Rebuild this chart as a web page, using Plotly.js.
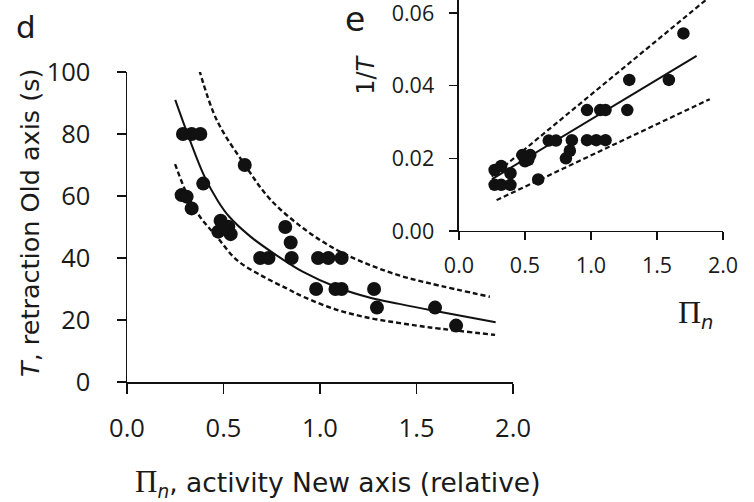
<!DOCTYPE html>
<html>
<head>
<meta charset="utf-8">
<script src="https://cdn.plot.ly/plotly-3.0.1.min.js"></script>
<style>html,body{margin:0;padding:0;background:#fff;}</style>
</head>
<body>
<div id="chart" style="width:754px;height:502px;"></div>
<script>
// ---- Panel d: T vs Pi_n (points) ----
const piMain = [0.29,0.335,0.38, 0.61, 0.395, 0.283,0.309, 0.335, 0.485,0.525,0.473,0.537,0.503, 0.69,0.733, 0.82,0.848,0.853, 0.99,1.043,1.112, 0.98,1.08,1.112, 1.28, 1.295, 1.596, 1.705];
const tMain  = [80,80,80, 70, 64, 60.3,59.8, 56, 52,50.1,48.5,47.7,49.6, 40,40, 50,45,40, 40,40,40, 30,30,30, 30, 24, 24, 18.2];

// panel d fitted curve and bounds
const mainFitPi = [0.25,0.32,0.40,0.47,0.53,0.64,0.76,0.91,1.09,1.26,1.41,1.57,1.91];
const mainFitT  = [91,79,66.5,58.5,53.3,46.9,41.5,35.6,30.5,27.2,25.2,23.2,19.3];
const mainUpPi  = [0.375,0.465,0.611,0.741,0.913,1.087,1.26,1.414,1.57,1.88];
const mainUpT   = [100.6,84.5,70,59,49.6,42.6,37.7,34.3,31.8,27.5];
const mainLoPi  = [0.249,0.309,0.378,0.465,0.568,0.706,0.827,0.913,1.087,1.26,1.414,1.57,1.907];
const mainLoT   = [70.3,60.9,53.3,46.9,39.4,34.0,30.2,27.5,23.3,20.6,19.0,17.6,15.2];

// ---- Panel e: 1/T vs Pi_n ----
const piIns = [0.27,0.32,0.39, 0.27,0.32, 0.39, 0.60, 0.48,0.54,0.50,0.525, 0.68,0.735, 0.81,0.84,0.855, 0.97,1.04,1.11, 0.97,1.07,1.11, 1.275, 1.29,1.59, 1.70];
const invTIns = [0.0127,0.0127,0.0127, 0.0168,0.0179, 0.0159, 0.0142, 0.0209,0.0209,0.0192,0.0196, 0.0249,0.0249, 0.0200,0.0221,0.0250, 0.0250,0.0250,0.0250, 0.0333,0.0333,0.0333, 0.0333, 0.0416,0.0416, 0.0544];
const insFitPi = [0.25, 1.80];
const insFitY  = [0.0143, 0.0482];
const insUpPi  = [0.248, 1.90];
const insUpY   = [0.0150, 0.0645];
const insLoPi  = [0.285, 1.90];
const insLoY   = [0.0085, 0.0363];

const xTicks = [0, 0.5, 1, 1.5, 2];
const xTickText = ['0.0','0.5','1.0','1.5','2.0'];
const yTicksMain = [0,20,40,60,80,100];
const yTicksIns = [0,0.02,0.04,0.06];
const yTickTextIns = ['0.00','0.02','0.04','0.06'];

const ink = '#111111';
const dash = '5px,3px';

const traces = [
  {x: mainUpPi, y: mainUpT, mode:'lines', line:{color:ink, width:2.4, dash:dash, shape:'spline'}, xaxis:'x', yaxis:'y', hoverinfo:'skip'},
  {x: mainLoPi, y: mainLoT, mode:'lines', line:{color:ink, width:2.4, dash:dash, shape:'spline'}, xaxis:'x', yaxis:'y', hoverinfo:'skip'},
  {x: mainFitPi, y: mainFitT, mode:'lines', line:{color:ink, width:2, shape:'spline'}, xaxis:'x', yaxis:'y', hoverinfo:'skip'},
  {x: piMain, y: tMain, mode:'markers', marker:{color:ink, size:14}, xaxis:'x', yaxis:'y', cliponaxis:false},
  {x: insUpPi, y: insUpY, mode:'lines', line:{color:ink, width:2.2, dash:dash}, xaxis:'x2', yaxis:'y2', hoverinfo:'skip'},
  {x: insLoPi, y: insLoY, mode:'lines', line:{color:ink, width:2.2, dash:dash}, xaxis:'x2', yaxis:'y2', hoverinfo:'skip'},
  {x: insFitPi, y: insFitY, mode:'lines', line:{color:ink, width:2}, xaxis:'x2', yaxis:'y2', hoverinfo:'skip'},
  {x: piIns, y: invTIns, mode:'markers', marker:{color:ink, size:12.5}, xaxis:'x2', yaxis:'y2', cliponaxis:false}
];

const tickFontMain = {family:'Open Sans, sans-serif', size:25.5, color:'#1a1a1a'};
const tickFontIns = {family:'Open Sans, sans-serif', size:21.5, color:'#1a1a1a'};
const axBase = {showgrid:false, zeroline:false, showline:true, linecolor:ink, linewidth:1.5,
  ticks:'outside', tickcolor:ink, tickwidth:1.5, fixedrange:true, ticklabeloverflow:'allow'};

const layout = {
  width:754, height:502,
  margin:{l:127, r:31, t:0, b:120},
  paper_bgcolor:'#ffffff', plot_bgcolor:'rgba(0,0,0,0)',
  showlegend:false,
  xaxis: Object.assign({}, axBase, {domain:[0,0.6477], range:[0,2], anchor:'y',
    tickvals:xTicks, ticktext:xTickText, ticklen:10, tickfont:tickFontMain, ticklabelstandoff:13}),
  yaxis: Object.assign({}, axBase, {domain:[0,0.8115], range:[0,100], anchor:'x',
    tickvals:yTicksMain, ticklen:9, tickfont:tickFontMain, ticklabelstandoff:21}),
  xaxis2: Object.assign({}, axBase, {domain:[0.557,1], range:[0,2], anchor:'y2',
    tickvals:xTicks, ticktext:xTickText, ticklen:8, tickfont:tickFontIns, ticklabelstandoff:7}),
  yaxis2: Object.assign({}, axBase, {domain:[0.3953,1], range:[0,0.0636], anchor:'x2',
    tickvals:yTicksIns, ticktext:yTickTextIns, ticklen:8, tickfont:tickFontIns, ticklabelstandoff:11}),
  annotations: [
    {xref:'paper', yref:'paper', x:0.353, y:-0.264, showarrow:false, xanchor:'center', yanchor:'middle',
     text:'<span style="font-family:Liberation Serif;font-size:31px">Π</span><sub><i>n</i></sub>, activity New axis (relative)',
     font:{family:'DejaVu Sans, sans-serif', size:26.5, color:'#1a1a1a'}},
    {xref:'paper', yref:'paper', x:-0.163, y:0.416, showarrow:false, textangle:-90, xanchor:'center', yanchor:'middle',
     text:'<i>T</i>, retraction Old axis (s)',
     font:{family:'DejaVu Sans, sans-serif', size:25.5, color:'#1a1a1a'}},
    {xref:'paper', yref:'paper', x:-0.169, y:0.929, showarrow:false, xanchor:'center', yanchor:'middle',
     text:'d', font:{family:'DejaVu Sans, sans-serif', size:31, color:'#1a1a1a'}},
    {xref:'paper', yref:'paper', x:0.383, y:0.948, showarrow:false, xanchor:'center', yanchor:'middle',
     text:'e', font:{family:'DejaVu Sans, sans-serif', size:33, color:'#1a1a1a'}},
    {xref:'paper', yref:'paper', x:0.401, y:0.804, showarrow:false, textangle:-90, xanchor:'center', yanchor:'middle',
     text:'1/<i>T</i>', font:{family:'DejaVu Sans, sans-serif', size:24, color:'#1a1a1a'}},
    {xref:'paper', yref:'paper', x:0.955, y:0.178, showarrow:false, xanchor:'center', yanchor:'middle',
     text:'<span style="font-family:Liberation Serif;font-size:32px">Π</span><sub><i>n</i></sub>',
     font:{family:'DejaVu Sans, sans-serif', size:28, color:'#1a1a1a'}}
  ]
};

Plotly.newPlot('chart', traces, layout, {displayModeBar:false, staticPlot:true});
</script>
</body>
</html>
